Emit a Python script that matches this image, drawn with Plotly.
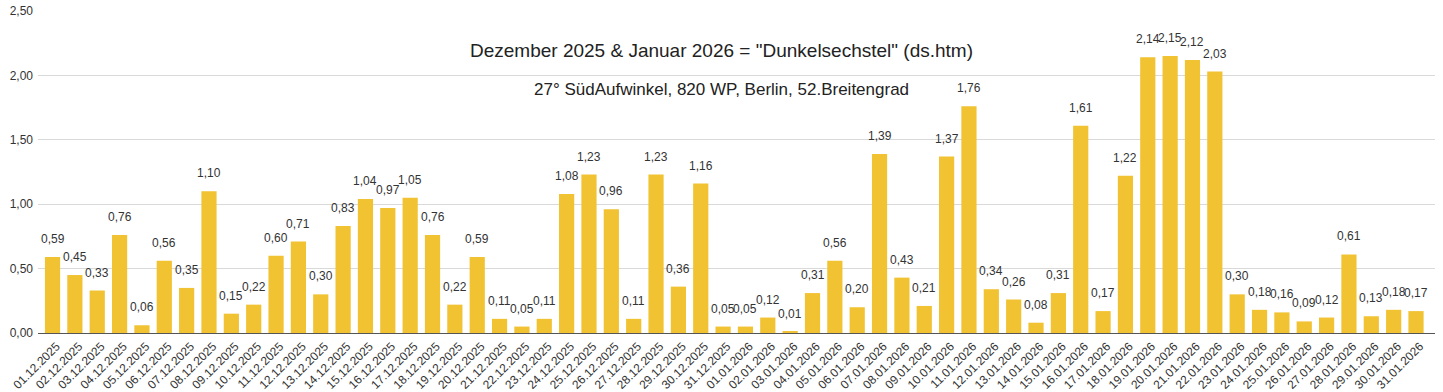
import plotly.graph_objects as go

dates_dec = [f"{d:02d}.12.2025" for d in range(1, 32)]
dates_jan = [f"{d:02d}.01.2026" for d in range(1, 32)]
categories = dates_dec + dates_jan

values_dec = [0.59, 0.45, 0.33, 0.76, 0.06, 0.56, 0.35, 1.10, 0.15, 0.22,
              0.60, 0.71, 0.30, 0.83, 1.04, 0.97, 1.05, 0.76, 0.22, 0.59,
              0.11, 0.05, 0.11, 1.08, 1.23, 0.96, 0.11, 1.23, 0.36, 1.16, 0.05]
values_jan = [0.05, 0.12, 0.01, 0.31, 0.56, 0.20, 1.39, 0.43, 0.21, 1.37,
              1.76, 0.34, 0.26, 0.08, 0.31, 1.61, 0.17, 1.22, 2.14, 2.15,
              2.12, 2.03, 0.30, 0.18, 0.16, 0.09, 0.12, 0.61, 0.13, 0.18, 0.17]
values = values_dec + values_jan

y_ticks = [0, 0.5, 1.0, 1.5, 2.0, 2.5]
y_tick_labels = ["0,00", "0,50", "1,00", "1,50", "2,00", "2,50"]

title_text = 'Dezember 2025 &amp; Januar 2026 = "Dunkelsechstel" (ds.htm)'
subtitle_text = "27° SüdAufwinkel, 820 WP, Berlin, 52.Breitengrad"

FONT = "Liberation Sans, Arial, sans-serif"

plot_top = 11
plot_bottom = 333
H = 392
plot_h = plot_bottom - plot_top


def py(pix):
    return 1 - (pix - plot_top) / plot_h


fig = go.Figure()
fig.add_trace(go.Bar(
    x=categories, y=values,
    marker=dict(color="#f1c232", line=dict(width=0)),
    width=0.68,
    hoverinfo="x+y",
))

annotations = []
for c, v in zip(categories, values):
    annotations.append(dict(
        x=c, y=v, xref="x", yref="y",
        text=f"{v:.2f}".replace(".", ","),
        showarrow=False, yshift=18, yanchor="middle",
        font=dict(family=FONT, size=12, color="#333333"),
    ))
annotations.append(dict(
    x=0.489, y=py(50), xref="paper", yref="paper", text=title_text,
    showarrow=False, xanchor="center", yanchor="middle",
    font=dict(family=FONT, size=19, color="#222222"),
))
annotations.append(dict(
    x=0.489, y=py(90), xref="paper", yref="paper", text=subtitle_text,
    showarrow=False, xanchor="center", yanchor="middle",
    font=dict(family=FONT, size=17, color="#222222"),
))

fig.update_layout(
    width=1443, height=H,
    margin=dict(l=38, r=8, t=plot_top, b=H - plot_bottom),
    paper_bgcolor="white", plot_bgcolor="white",
    showlegend=False,
    font=dict(family=FONT, color="#444444"),
    annotations=annotations,
    xaxis=dict(
        type="category",
        range=[-0.65, 61.85],
        tickangle=-45,
        tickfont=dict(family=FONT, size=12, color="#333333"),
        showgrid=False,
        ticks="",
        showline=False,
        automargin=False,
        ticklabelshift=4,
        ticklabelstandoff=3,
    ),
    yaxis=dict(
        range=[0, 2.5],
        tickvals=y_ticks,
        ticktext=y_tick_labels,
        tickfont=dict(family=FONT, size=12, color="#333333"),
        showgrid=True, gridcolor="#d9d9d9", gridwidth=1,
        zeroline=True, zerolinecolor="#555555", zerolinewidth=1,
        ticks="", ticklabelstandoff=4,
        automargin=False,
    ),
)

fig.write_html(
    "out.html",
    config={"displayModeBar": False},
    post_script="document.body.style.margin='0';document.body.style.overflow='hidden';",
)
